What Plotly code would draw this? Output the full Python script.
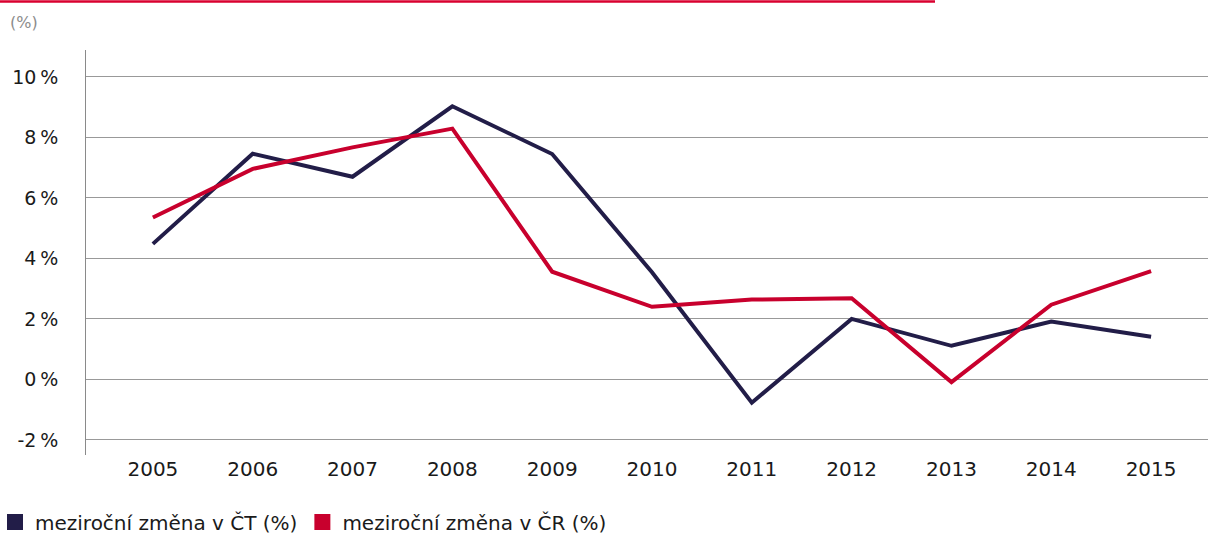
import plotly.graph_objects as go

years = [2005, 2006, 2007, 2008, 2009, 2010, 2011, 2012, 2013, 2014, 2015]
ct_values = [4.48, 7.46, 6.70, 9.03, 7.45, 3.54, -0.77, 2.00, 1.11, 1.91, 1.41]
cr_values = [5.35, 6.96, 7.67, 8.29, 3.56, 2.40, 2.64, 2.68, -0.09, 2.47, 3.58]
y_ticks = [-2, 0, 2, 4, 6, 8, 10]
y_tick_labels = ["-2\u2009%", "0\u2009%", "2\u2009%", "4\u2009%", "6\u2009%", "8\u2009%", "10\u2009%"]
series_names = ["meziroční změna v ČT (%)", "meziroční změna v ČR (%)"]

DARK = "#221d48"
RED = "#c8002d"
FONT = "DejaVu Sans"

fig = go.Figure()
for vals, name, col in [(ct_values, series_names[0], DARK), (cr_values, series_names[1], RED)]:
    fig.add_trace(go.Scatter(x=years, y=vals, mode="lines", name=name,
                             line=dict(color=col, width=4), showlegend=False))
    fig.add_trace(go.Scatter(x=[None], y=[None], mode="markers", name=name,
                             marker=dict(symbol="square", size=16, color=col),
                             showlegend=True))

W, H = 1208, 534
ml, mr, mt, mb = 86, 0, 50, 79
pw, ph = W - ml - mr, H - mt - mb

fig.update_layout(
    width=W, height=H,
    margin=dict(l=ml, r=mr, t=mt, b=mb, autoexpand=False),
    paper_bgcolor="white", plot_bgcolor="white",
    font=dict(family=FONT, size=20, color="#1a1a1a"),
    xaxis=dict(range=[2004.33, 2015.57], tickmode="array", tickvals=years,
               ticktext=[str(y) for y in years], showgrid=False, zeroline=False,
               showline=False, ticks="", tickfont=dict(size=20)),
    yaxis=dict(range=[-2.5, 10.89], tickmode="array", tickvals=y_ticks,
               ticktext=y_tick_labels, showgrid=True, gridcolor="#999999",
               gridwidth=1, zeroline=False, showline=True, linecolor="#8a8a8a",
               linewidth=1, ticks="", ticklabelstandoff=23, tickfont=dict(size=19)),
    legend=dict(orientation="h", x=(-5 - ml) / pw, xanchor="left",
                y=-(522 - (mt + ph)) / ph, yanchor="middle",
                font=dict(size=20, color="#1a1a1a"), itemwidth=30,
                tracegroupgap=0, bgcolor="rgba(0,0,0,0)"),
    showlegend=True,
)

# red decorative line at top
fig.add_shape(type="line", xref="paper", yref="paper",
              x0=-ml / pw, x1=(935 - ml) / pw,
              y0=1 + (mt - 1.5) / ph, y1=1 + (mt - 1.5) / ph,
              line=dict(color="#d9002f", width=2.5))

fig.add_annotation(text="(%)", xref="paper", yref="paper",
                   x=(8 - ml) / pw, y=1 + (mt - 22) / ph, xanchor="left", yanchor="middle",
                   showarrow=False, font=dict(size=16, color="#8c8c8c", family=FONT))

fig.write_html("out.html", config={"displayModeBar": False},
               post_script="document.body.style.margin='0';document.body.style.overflow='hidden';")
